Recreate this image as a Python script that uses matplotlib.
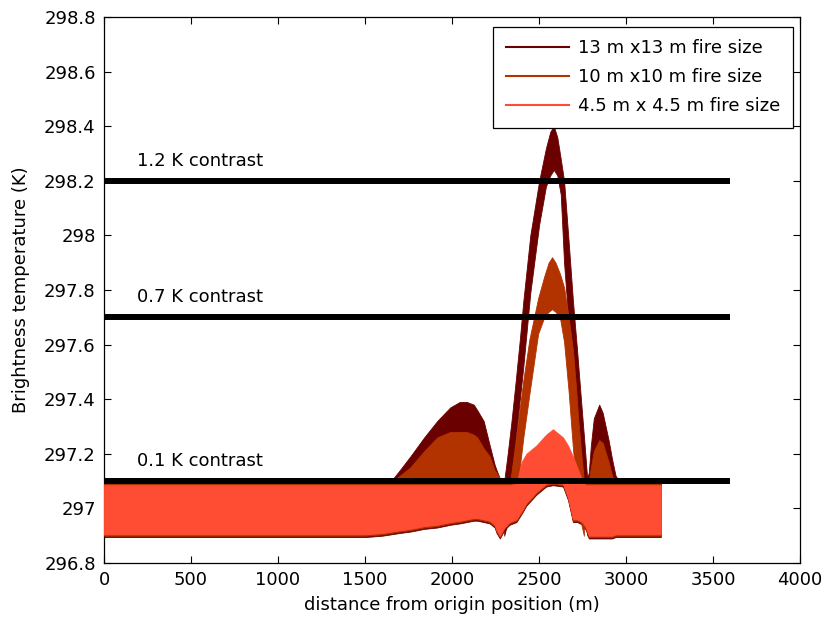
import matplotlib
matplotlib.use("Agg")
import matplotlib.pyplot as plt
import numpy as np

plt.rcParams['font.family'] = ['DejaVu Sans']
plt.rcParams['font.size'] = 13

# ---------------- data ----------------
labels = ["13 m x13 m fire size", "10 m x10 m fire size", "4.5 m x 4.5 m fire size"]
colors = ["#6B0000", "#B23300", "#FF4D33"]

# common x grid for the noise envelopes (m)
x_env = [0, 1500, 1600, 1650, 1700, 1760, 1840, 1915, 1990, 2045, 2085, 2125, 2145,
         2182, 2217, 2245, 2256, 2275, 2300, 2330, 2370, 2400, 2427, 2484, 2541, 2580,
         2638, 2667, 2695, 2720, 2750, 2770, 2786, 2798, 2815, 2846, 2866, 2900, 2920,
         2940, 2960, 3000, 3200]

# 13 m x 13 m : envelope of the oscillating signal (upper / lower)
upper13 = [297.10, 297.10, 297.10, 297.10, 297.14, 297.19, 297.26, 297.32, 297.37, 297.39,
           297.39, 297.38, 297.36, 297.32, 297.23, 297.16, 297.14, 297.11, 297.10, 297.10,
           297.10, 297.10, 297.10, 297.10, 297.10, 297.10, 297.10, 297.10, 297.10, 297.10,
           297.10, 297.10, 297.13, 297.23, 297.33, 297.38, 297.35, 297.25, 297.18, 297.12,
           297.10, 297.10, 297.10]
lower13 = [296.895, 296.895, 296.90, 296.905, 296.91, 296.915, 296.925, 296.93, 296.94,
           296.945, 296.95, 296.955, 296.955, 296.95, 296.945, 296.93, 296.91, 296.89,
           296.92, 296.94, 296.95, 296.98, 297.01, 297.05, 297.08, 297.085, 297.08,
           297.03, 296.95, 296.95, 296.94, 296.92, 296.89, 296.89, 296.89, 296.89,
           296.89, 296.89, 296.89, 296.895, 296.895, 296.895, 296.895]

# 10 m x 10 m
upper10 = [297.095, 297.095, 297.095, 297.095, 297.12, 297.15, 297.21, 297.26, 297.28, 297.28,
           297.28, 297.27, 297.26, 297.22, 297.19, 297.14, 297.13, 297.11, 297.095, 297.095,
           297.095, 297.095, 297.095, 297.095, 297.095, 297.095, 297.095, 297.095, 297.095,
           297.095, 297.095, 297.095, 297.10, 297.15, 297.21, 297.25, 297.24, 297.17, 297.12,
           297.095, 297.095, 297.095, 297.095]
lower10 = [296.90, 296.90, 296.905, 296.91, 296.915, 296.92, 296.93, 296.935, 296.945,
           296.95, 296.955, 296.96, 296.96, 296.955, 296.95, 296.935, 296.915, 296.895,
           296.925, 296.945, 296.955, 296.985, 297.015, 297.055, 297.085, 297.09, 297.085,
           297.035, 296.955, 296.955, 296.945, 296.925, 296.895, 296.895, 296.895, 296.895,
           296.895, 296.895, 296.895, 296.90, 296.90, 296.90, 296.90]

# 4.5 m x 4.5 m
upper45 = [297.085, 297.085, 297.085, 297.085, 297.085, 297.085, 297.085, 297.085, 297.085,
           297.085, 297.085, 297.085, 297.085, 297.085, 297.085, 297.085, 297.085, 297.085,
           297.085, 297.085, 297.09, 297.17, 297.20, 297.23, 297.27, 297.29, 297.26, 297.23,
           297.19, 297.15, 297.10, 297.085, 297.085, 297.085, 297.085, 297.085, 297.085,
           297.085, 297.085, 297.085, 297.085, 297.085, 297.085]
lower45 = [296.905, 296.905, 296.91, 296.915, 296.92, 296.925, 296.935, 296.94, 296.95,
           296.955, 296.96, 296.965, 296.965, 296.96, 296.955, 296.94, 296.92, 296.90,
           296.93, 296.95, 296.96, 296.99, 297.02, 297.06, 297.09, 297.095, 297.09,
           297.04, 296.96, 296.96, 296.95, 296.93, 296.90, 296.90, 296.90, 296.90,
           296.90, 296.90, 296.90, 296.905, 296.905, 296.905, 296.905]

# central peak, 13 m fire: outer and inner edge of the thin noisy band
x13_peak = [2300, 2320, 2342, 2365, 2390, 2410, 2450, 2501, 2540, 2565, 2585, 2605, 2625,
            2644, 2670, 2695, 2720, 2741, 2760, 2778]
top13_peak = [297.10, 297.20, 297.32, 297.46, 297.62, 297.76, 298.00, 298.20, 298.32, 298.38,
              298.40, 298.36, 298.28, 298.20, 297.98, 297.76, 297.57, 297.40, 297.25, 297.10]
bot13_peak = [296.90, 296.95, 297.13, 297.25, 297.40, 297.52, 297.79, 298.04, 298.18, 298.22,
              298.24, 298.22, 298.15, 297.90, 297.68, 297.49, 297.29, 297.12, 297.00, 296.90]

# central peak, 10 m fire
x10_peak = [2335, 2360, 2380, 2410, 2445, 2495, 2530, 2555, 2575, 2595, 2620, 2644, 2670,
            2695, 2712, 2725, 2740, 2758]
top10_peak = [297.10, 297.22, 297.32, 297.47, 297.62, 297.77, 297.85, 297.90, 297.92, 297.90,
              297.86, 297.81, 297.70, 297.58, 297.45, 297.33, 297.22, 297.10]
bot10_peak = [296.95, 297.00, 297.10, 297.26, 297.42, 297.64, 297.70, 297.72, 297.73, 297.72,
              297.70, 297.61, 297.43, 297.22, 297.10, 297.00, 296.95, 296.90]

# contrast threshold lines
contrast_levels = [298.2, 297.7, 297.1]
contrast_labels = ["1.2 K contrast", "0.7 K contrast", "0.1 K contrast"]
contrast_xmax = 3600

xticks = [0, 500, 1000, 1500, 2000, 2500, 3000, 3500, 4000]
yticks = [296.8, 297, 297.2, 297.4, 297.6, 297.8, 298, 298.2, 298.4, 298.6, 298.8]
ytick_labels = ["296.8", "297", "297.2", "297.4", "297.6", "297.8", "298", "298.2",
                "298.4", "298.6", "298.8"]

# ---------------- figure ----------------
fig = plt.figure(figsize=(8.24, 6.24), dpi=100)
ax = fig.add_axes([104 / 824, 61 / 624, 696 / 824, 546 / 624])

fill_kw = dict(linewidth=0.6)
# 13 m
ax.fill_between(x_env, lower13, upper13, color=colors[0], edgecolor=colors[0], zorder=2, **fill_kw)
ax.fill_between(x13_peak, bot13_peak, top13_peak, color=colors[0], edgecolor=colors[0], zorder=2, **fill_kw)
# 10 m
ax.fill_between(x_env, lower10, upper10, color=colors[1], edgecolor=colors[1], zorder=3, **fill_kw)
ax.fill_between(x10_peak, bot10_peak, top10_peak, color=colors[1], edgecolor=colors[1], zorder=3, **fill_kw)
# 4.5 m
ax.fill_between(x_env, lower45, upper45, color=colors[2], edgecolor=colors[2], zorder=4, **fill_kw)

# legend handles
handles = [ax.plot([], [], color=c, lw=1.5)[0] for c in colors]

# contrast lines and labels
for lev, lab in zip(contrast_levels, contrast_labels):
    ax.plot([0, contrast_xmax], [lev, lev], color="black", lw=4.3, solid_capstyle="butt", zorder=5)
    ax.text(190, lev + 0.055, lab, ha="left", va="baseline", fontsize=13, zorder=6)

ax.set_xlim(0, 4000)
ax.set_ylim(296.8, 298.8)
ax.set_xticks(xticks)
ax.set_xticklabels([str(t) for t in xticks])
ax.set_yticks(yticks)
ax.set_yticklabels(ytick_labels)
ax.tick_params(direction="in", top=True, right=True, length=5, width=0.8, pad=6, labelsize=13)
for s in ax.spines.values():
    s.set_linewidth(0.9)

ax.set_xlabel("distance from origin position (m)", fontsize=13, labelpad=5)
ax.set_ylabel("Brightness temperature (K)", fontsize=13, labelpad=10)

leg = ax.legend(handles, labels, loc="upper right", bbox_to_anchor=(0.99, 0.982),
                frameon=True, fancybox=False, framealpha=1, edgecolor="black",
                handlelength=3.5, handletextpad=0.5, labelspacing=0.6, borderpad=0.7,
                fontsize=13, borderaxespad=0)
leg.get_frame().set_linewidth(0.9)
leg.set_zorder(10)

fig.savefig("out.png", dpi=100)
